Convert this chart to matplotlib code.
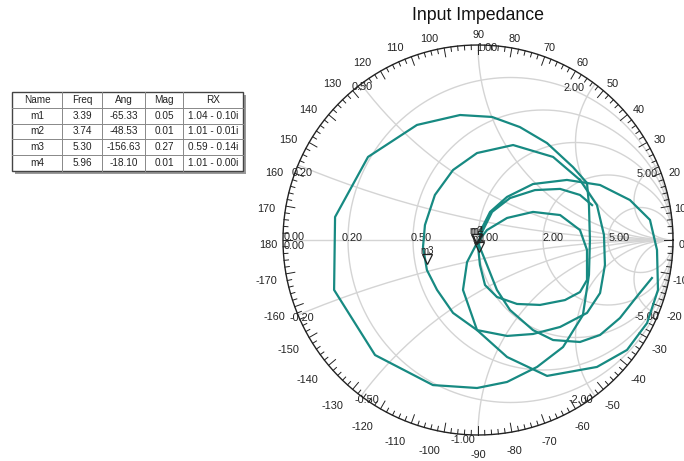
import numpy as np
import matplotlib
matplotlib.use("Agg")
import matplotlib.pyplot as plt
from matplotlib.patches import Rectangle

plt.rcParams['font.family'] = ['Liberation Sans', 'DejaVu Sans']

# ---------------- data ----------------
title = "Input Impedance"
r_values = [0.2, 0.5, 1.0, 2.0, 5.0]
x_values = [0.2, 0.5, 1.0, 2.0, 5.0]

marker_names = ["m1", "m2", "m3", "m4"]
marker_freq = [3.39, 3.74, 5.30, 5.96]
marker_ang = [-65.33, -48.53, -156.63, -18.10]
marker_mag = [0.05, 0.01, 0.27, 0.01]
marker_rx = ["1.04 - 0.10i", "1.01 - 0.01i", "0.59 - 0.14i", "1.01 - 0.00i"]
table_cols = ["Name", "Freq", "Ang", "Mag", "RX"]

segE_re = [0.892, 0.821, 0.728, 0.626, 0.523, 0.385, 0.282, 0.164, 0.097, 0.046, 0.005]
segE_im = [-0.195, -0.282, -0.400, -0.487, -0.523, -0.513, -0.462, -0.359, -0.256, -0.128, -0.026]
segC_re = [0.015, 0.062, 0.149, 0.282, 0.456, 0.626, 0.779, 0.882, 0.918, 0.923, 0.867, 0.764, 0.610, 0.354, 0.149, -0.005, -0.077, -0.056, -0.005]
segC_im = [0.051, 0.144, 0.221, 0.287, 0.308, 0.282, 0.205, 0.103, -0.051, -0.256, -0.426, -0.564, -0.651, -0.697, -0.600, -0.462, -0.256, -0.113, -0.015]
segD_re = [0.046, 0.149, 0.282, 0.421, 0.523, 0.559, 0.559, 0.523, 0.446, 0.318, 0.200, 0.097, 0.036, 0.010, 0.0]
segD_im = [0.051, 0.113, 0.144, 0.128, 0.051, -0.051, -0.205, -0.267, -0.308, -0.333, -0.328, -0.292, -0.231, -0.128, -0.031]
segF_re = [0.021, 0.072, 0.164, 0.292, 0.421, 0.523, 0.585]
segF_im = [0.041, 0.144, 0.215, 0.256, 0.262, 0.231, 0.179]
loopA_re = [0.559, 0.487, 0.354, 0.215, 0.072, -0.092, -0.313, -0.564, -0.733, -0.738, -0.528, -0.231, -0.005, 0.149, 0.303, 0.436, 0.538, 0.569, 0.574, 0.569, 0.559]
loopA_im = [0.292, 0.374, 0.497, 0.579, 0.631, 0.641, 0.590, 0.426, 0.118, -0.256, -0.590, -0.744, -0.759, -0.728, -0.651, -0.549, -0.385, -0.179, 0.0, 0.179, 0.292]
loopB_re = [0.523, 0.385, 0.180, -0.005, -0.128, -0.221, -0.272, -0.282, -0.262, -0.210, -0.128, -0.005, 0.149, 0.282, 0.421, 0.559, 0.626, 0.651, 0.646, 0.610, 0.523]
loopB_im = [0.308, 0.426, 0.487, 0.446, 0.359, 0.231, 0.077, -0.036, -0.154, -0.256, -0.374, -0.462, -0.492, -0.482, -0.446, -0.374, -0.272, -0.128, 0.026, 0.179, 0.308]

# ---------------- figure ----------------
W, H = 684, 461
fig = plt.figure(figsize=(W / 100, H / 100), dpi=100)
ax = fig.add_axes([0, 0, 1, 1])
cx, cy, R = 478.0, 240.0, 195.0
ax.set_xlim(-cx / R, (W - cx) / R)
ax.set_ylim((cy - H) / R, cy / R)
ax.axis('off')

grid_c = '#d4d4d4'
lab_c = '#222222'
FS = 7.8

t = np.linspace(0, 2 * np.pi, 721)
clip = plt.Circle((0, 0), 1.0, transform=ax.transData, fill=False, lw=0)
ax.add_patch(clip)

# horizontal axis
ax.plot([-1, 1], [0, 0], color=grid_c, lw=1.0, zorder=1)
# resistance circles
for r in r_values:
    c = r / (1 + r)
    rad = 1 / (1 + r)
    ax.plot(c + rad * np.cos(t), rad * np.sin(t), color=grid_c, lw=1.0, zorder=1)
# reactance arcs
for x in x_values:
    for s in (1, -1):
        xc, yc, rad = 1.0, s / x, 1 / x
        ln, = ax.plot(xc + rad * np.cos(t), yc + rad * np.sin(t), color=grid_c, lw=1.0, zorder=1)
        ln.set_clip_path(clip)

# outer circle and ticks
ax.plot(np.cos(t), np.sin(t), color='#222222', lw=1.0, zorder=3)
for d in range(0, 360, 2):
    a = np.deg2rad(d)
    L = 9 / R if d % 10 == 0 else 4.5 / R
    ax.plot([np.cos(a), (1 - L) * np.cos(a)], [np.sin(a), (1 - L) * np.sin(a)],
            color='#222222', lw=0.7, zorder=3)
for d in range(-170, 181, 10):
    a = np.deg2rad(d)
    c_, s_ = np.cos(a), np.sin(a)
    sx = -12 * np.sqrt(abs(s_)) if c_ < -0.01 else (-6 * c_ ** 30 if c_ > 0 else 0)
    xp = 209.6 * c_ + sx
    yp = 209.6 * s_ - 5
    ax.text(xp / R, yp / R, str(d), ha='center', va='center',
            fontsize=FS, color=lab_c, zorder=4)

# resistance labels
ax.text(-1 + 0.5 / R, 3 / R, "0.00", ha='left', va='center', fontsize=FS, color=lab_c)
ax.text(-1 + 0.5 / R, -6 / R, "0.00", ha='left', va='center', fontsize=FS, color=lab_c)
r_off = {0.2: 4, 0.5: 8, 1.0: 10, 2.0: 10, 5.0: 11}
for r in r_values:
    g = (r - 1) / (r + 1)
    ax.text(g + r_off[r] / R, 2 / R, f"{r:.2f}", ha='center', va='center', fontsize=FS, color=lab_c)

# reactance labels (offsets in pixels from intersection with unit circle, +y = down)
pos_off = {0.2: (4, 8), 0.5: (1, 3), 1.0: (9, 3), 2.0: (-21, 4), 5.0: (-11, 9)}
neg_off = {0.2: (4, 3), 0.5: (6, 4), 1.0: (-15, 5), 2.0: (-14, 4), 5.0: (-11, 2)}
for x in x_values:
    for s, offs in ((1, pos_off), (-1, neg_off)):
        gr = (x * x - 1) / (x * x + 1)
        gi = s * 2 * x / (x * x + 1)
        ox, oy = offs[x]
        lab = f"{s * x:.2f}"
        ax.text(gr + ox / R, gi - oy / R, lab, ha='center', va='center', fontsize=FS,
                color=lab_c, zorder=4)

# trace
tc = '#178a82'
chain_re = segE_re + segC_re + segD_re + segF_re
chain_im = segE_im + segC_im + segD_im + segF_im
for re_, im_ in ((chain_re, chain_im), (loopA_re, loopA_im), (loopB_re, loopB_im)):
    ax.plot(re_, im_, color=tc, lw=1.6, zorder=5, solid_joinstyle='round')

# markers
for n, m, a in zip(marker_names, marker_mag, marker_ang):
    g = m * np.exp(1j * np.deg2rad(a))
    ax.plot(g.real - 3 / R, g.imag + 2 / R, marker='v', ms=6.5, mfc='none', mec='#222222', mew=0.9, zorder=6)
    ax.text(g.real - 3 / R, g.imag + 10 / R, n, ha='center', va='center', fontsize=7, color='#222222', zorder=6)

# title
ax.text(0, (cy - 16) / R, title, ha='center', va='center', fontsize=12.8, color='#111111')

# table (pixel geometry)
col_edges = [12, 62, 102, 145, 183, 243]
top, rowh = 92, 15.8
nrows = 5
def fx(p):
    return (p - cx) / R
def fy(p):
    return (cy - p) / R
ax.add_patch(Rectangle((fx(15), fy(top + rowh * nrows + 3)), (243 - 12) / R, rowh * nrows / R,
                       facecolor='#9a9a9a', edgecolor='none', zorder=1))
ax.add_patch(Rectangle((fx(12), fy(top + rowh * nrows)), (243 - 12) / R, rowh * nrows / R,
                       facecolor='white', edgecolor='#444444', lw=1.0, zorder=2))
for e in col_edges[1:-1]:
    ax.plot([fx(e), fx(e)], [fy(top), fy(top + rowh * nrows)], color='#888888', lw=0.7, zorder=3)
for i in range(1, nrows):
    ax.plot([fx(12), fx(243)], [fy(top + rowh * i), fy(top + rowh * i)], color='#888888', lw=0.7, zorder=3)
rows = [table_cols] + [[n, f"{f:.2f}", f"{a:.2f}", f"{m:.2f}", rx] for n, f, a, m, rx in
                       zip(marker_names, marker_freq, marker_ang, marker_mag, marker_rx)]
for i, row in enumerate(rows):
    for j, val in enumerate(row):
        xc_ = (col_edges[j] + col_edges[j + 1]) / 2
        yc_ = top + rowh * (i + 0.5)
        ax.text(fx(xc_), fy(yc_), val, ha='center', va='center', fontsize=7.2, color='#222222', zorder=4)

fig.savefig("out.png", dpi=100)
